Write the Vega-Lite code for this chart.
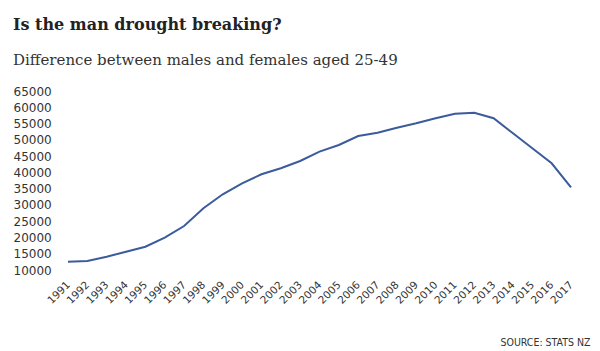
{
  "$schema": "https://vega.github.io/schema/vega-lite/v6.json",
  "width": 503,
  "height": 179,
  "autosize": {"type": "none"},
  "padding": {"left": 68, "top": 91, "right": 29, "bottom": 81},
  "background": "white",
  "title": {
    "text": "Is the man drought breaking?",
    "subtitle": "Difference between males and females aged 25-49",
    "anchor": "start",
    "frame": "group",
    "dx": -55,
    "offset": 17,
    "font": "DejaVu Serif",
    "fontSize": 16,
    "fontWeight": "bold",
    "color": "#222222",
    "subtitleFont": "DejaVu Serif",
    "subtitleFontSize": 15,
    "subtitleColor": "#333333",
    "subtitlePadding": 20
  },
  "data": {
    "values": [
      {"year": "1991", "diff": 12550},
      {"year": "1992", "diff": 12770},
      {"year": "1993", "diff": 14090},
      {"year": "1994", "diff": 15620},
      {"year": "1995", "diff": 17160},
      {"year": "1996", "diff": 19930},
      {"year": "1997", "diff": 23520},
      {"year": "1998", "diff": 28960},
      {"year": "1999", "diff": 33260},
      {"year": "2000", "diff": 36640},
      {"year": "2001", "diff": 39410},
      {"year": "2002", "diff": 41250},
      {"year": "2003", "diff": 43500},
      {"year": "2004", "diff": 46360},
      {"year": "2005", "diff": 48410},
      {"year": "2006", "diff": 51180},
      {"year": "2007", "diff": 52190},
      {"year": "2008", "diff": 53730},
      {"year": "2009", "diff": 55080},
      {"year": "2010", "diff": 56620},
      {"year": "2011", "diff": 58030},
      {"year": "2012", "diff": 58340},
      {"year": "2013", "diff": 56620},
      {"year": "2014", "diff": 52000},
      {"year": "2015", "diff": 47390},
      {"year": "2016", "diff": 42790},
      {"year": "2017", "diff": 35420}
    ]
  },
  "mark": {"type": "line", "color": "#3b5b9c", "strokeWidth": 2},
  "encoding": {
    "x": {
      "field": "year",
      "type": "ordinal",
      "scale": {"type": "point", "padding": 0},
      "axis": {
        "title": "SOURCE: STATS NZ",
        "titleFont": "DejaVu Sans Condensed, Roboto Condensed, Liberation Sans Narrow, Roboto",
        "titleFontSize": 10.5,
        "titleFontWeight": "normal",
        "titleColor": "#333333",
        "titleAnchor": "end",
        "titleAlign": "right",
        "titleBaseline": "alphabetic",
        "titleX": 522,
        "titleY": 75,
        "labelAngle": -45,
        "labelAlign": "right",
        "labelBaseline": "middle",
        "labelFont": "DejaVu Sans",
        "labelFontSize": 10.5,
        "labelColor": "#333333",
        "labelPadding": 13,
        "domain": false,
        "ticks": false,
        "grid": false
      }
    },
    "y": {
      "field": "diff",
      "type": "quantitative",
      "scale": {"domain": [10000, 65000], "nice": false, "zero": false},
      "axis": {
        "title": null,
        "values": [10000, 15000, 20000, 25000, 30000, 35000, 40000, 45000, 50000, 55000, 60000, 65000],
        "format": "d",
        "labelFont": "DejaVu Sans",
        "labelFontSize": 12,
        "labelColor": "#333333",
        "labelAlign": "left",
        "labelPadding": 55,
        "domain": false,
        "ticks": false,
        "grid": false
      }
    }
  },
  "config": {"view": {"stroke": null}}
}
